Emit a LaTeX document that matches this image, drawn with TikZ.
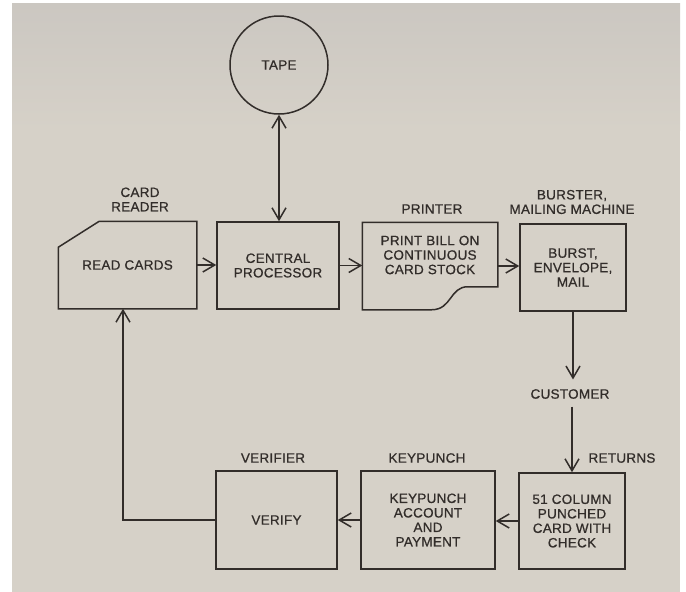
\documentclass[tikz,border=0pt]{standalone}
\usepackage{fontspec}
\setmainfont{Liberation Sans}[LetterSpace=2,FakeBold=0.7]
\usetikzlibrary{arrows.meta,calc}
\definecolor{paper}{RGB}{214,209,200}
\definecolor{papertop}{RGB}{203,199,193}
\definecolor{ink}{RGB}{50,45,42}
\begin{document}
\begin{tikzpicture}[x=1pt,y=-1pt,line width=1.5pt,color=ink,
  txt/.style={font=\fontsize{13.5}{14.5}\selectfont,align=center,text=ink,inner sep=1pt},
  box/.style={txt,draw,rectangle,inner sep=0pt},
  tipv/.tip={Straight Barb[length=12pt,width=14pt]},
  arr/.style={-tipv},
  dbl/.style={tipv-tipv}]
\useasboundingbox (0,0) rectangle (686,592);
\fill[white] (0,0) rectangle (686,592);
\fill[paper] (12,3) rectangle (680,592);
\shade[top color=papertop,bottom color=paper,draw=none] (12,3) rectangle (680,130);
% nodes
\node[txt,circle,draw,minimum size=98pt] (tape) at (279,65) {TAPE};
\node[txt,minimum width=137pt,minimum height=86pt,inner sep=0pt] (cr) at (127.5,265) {READ\hspace{4pt}CARDS};
\draw ($(cr.north west)+(0pt,-26pt)$) -- ($(cr.north west)+(41pt,0pt)$) -- (cr.north east) -- (cr.south east) -- (cr.south west) -- cycle;
\node[box,minimum width=122pt,minimum height=87pt] (cp) at (278,265.5) {CENTRAL\\PROCESSOR};
\node[minimum width=134pt,minimum height=86pt,inner sep=0pt] (pr) at (430,266) {};
\draw (pr.north west) -- (pr.north east) -- ($(pr.south east)+(0pt,23pt)$) -- ($(pr.south east)+(-30pt,23pt)$)
  .. controls ($(pr.south east)+(-48pt,23pt)$) and ($(pr.south east)+(-46pt,0pt)$) .. ($(pr.south east)+(-66pt,0pt)$)
  -- (pr.south west) -- cycle;
\node[txt] (prt) at (430,255) {PRINT BILL ON\\CONTINUOUS\\CARD STOCK};
\node[box,minimum width=106pt,minimum height=87pt] (bu) at (573,267.5) {BURST,\\ENVELOPE,\\MAIL};
\node[box,minimum width=121pt,minimum height=98pt] (ver) at (276.5,520) {VERIFY};
\node[box,minimum width=134pt,minimum height=98pt] (kp) at (428,520) {KEYPUNCH\\ACCOUNT\\AND\\PAYMENT};
\node[box,minimum width=106pt,minimum height=96pt] (col) at (572,521) {51 COLUMN\\PUNCHED\\CARD WITH\\CHECK};
% labels
\node[txt] (crl) at (140,199.5) {CARD\\READER};
\node[txt] (prl) at (432,209) {PRINTER};
\node[txt] (bul) at (572,202) {BURSTER,\\MAILING\hspace{4pt}MACHINE};
\node[txt] (verl) at (273,458) {VERIFIER};
\node[txt] (kpl) at (427,458) {KEYPUNCH};
\node[txt] (cust) at (570,394) {CUSTOMER};
\node[txt] (ret) at (622,458) {RETURNS};
% connectors
\draw[dbl] (tape.south) -- (tape.south |- cp.north);
\draw[arr] (cr.east) -- (cr.east -| cp.west);
\draw[arr] (cp.east) -- (cp.east -| pr.west);
\draw[arr] (pr.east) -- (pr.east -| bu.west);
\draw[arr,shorten >=8pt] (bu.south) -- (bu.south |- cust.north);
\draw[arr,shorten <=6pt] (cust.south -| col.north) -- (col.north);
\draw[arr] (col.west) -- (col.west -| kp.east);
\draw[arr] (kp.west) -- (ver.east);
\coordinate (bend) at (123,520);
\draw[arr] (ver.west) -- (bend) -- (bend |- cr.south);
\end{tikzpicture}
\end{document}
